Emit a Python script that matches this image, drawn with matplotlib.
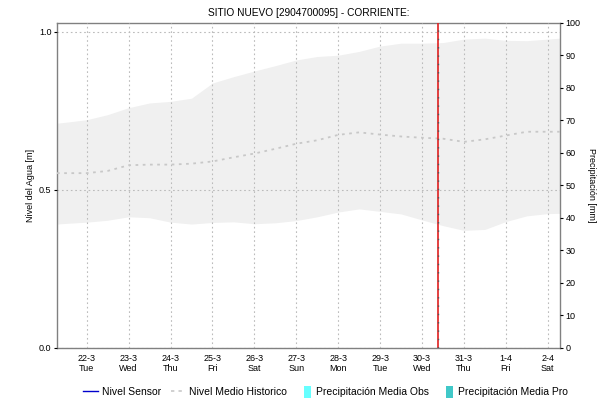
import matplotlib
matplotlib.use("Agg")
import matplotlib.pyplot as plt
from matplotlib.lines import Line2D
from matplotlib.patches import Patch, Rectangle
from matplotlib.legend_handler import HandlerPatch
import pandas as pd

plt.rcParams['font.family'] = ['Liberation Sans', 'DejaVu Sans']

title = "SITIO NUEVO [2904700095] - CORRIENTE:"

times = pd.to_datetime([
    "2022-03-21 07:00", "2022-03-21 12:00",
    "2022-03-22 00:00", "2022-03-22 12:00",
    "2022-03-23 00:00", "2022-03-23 12:00",
    "2022-03-24 00:00", "2022-03-24 12:00",
    "2022-03-25 00:00", "2022-03-25 12:00",
    "2022-03-26 00:00", "2022-03-26 12:00",
    "2022-03-27 00:00", "2022-03-27 12:00",
    "2022-03-28 00:00", "2022-03-28 12:00",
    "2022-03-29 00:00", "2022-03-29 12:00",
    "2022-03-30 00:00", "2022-03-30 12:00",
    "2022-03-31 00:00", "2022-03-31 12:00",
    "2022-04-01 00:00", "2022-04-01 12:00",
    "2022-04-02 00:00", "2022-04-02 07:00",
])

band_upper = [0.711, 0.714, 0.722, 0.738, 0.760, 0.775, 0.780, 0.790, 0.838, 0.858,
              0.876, 0.893, 0.911, 0.922, 0.926, 0.938, 0.955, 0.964, 0.964, 0.966,
              0.977, 0.980, 0.973, 0.972, 0.977, 0.980]
band_lower = [0.392, 0.394, 0.398, 0.404, 0.415, 0.412, 0.398, 0.392, 0.397, 0.399,
              0.393, 0.396, 0.403, 0.415, 0.430, 0.440, 0.432, 0.424, 0.405, 0.387,
              0.372, 0.375, 0.400, 0.418, 0.425, 0.426]
nivel_medio = [0.553, 0.553, 0.553, 0.560, 0.578, 0.580, 0.580, 0.583, 0.590, 0.603,
               0.615, 0.630, 0.646, 0.657, 0.674, 0.682, 0.675, 0.669, 0.665, 0.662,
               0.652, 0.660, 0.672, 0.684, 0.684, 0.684]

now_time = pd.Timestamp("2022-03-30 09:00")

day_ticks = pd.date_range("2022-03-22", "2022-04-02", freq="D")
day_labels = ["22-3\nTue", "23-3\nWed", "24-3\nThu", "25-3\nFri", "26-3\nSat", "27-3\nSun",
              "28-3\nMon", "29-3\nTue", "30-3\nWed", "31-3\nThu", "1-4\nFri", "2-4\nSat"]

left_ticks = [0.0, 0.5, 1.0]
right_ticks = list(range(0, 101, 10))

fig = plt.figure(figsize=(6.01, 4.03), dpi=100)
ax = fig.add_axes([0.0948, 0.1365, 0.837, 0.8065])

ax.fill_between(times, band_lower, band_upper, color="#f0f0f0", lw=0, zorder=1)
ax.plot(times, nivel_medio, color="#c8c8c8", lw=1.3, linestyle=(0, (1.5, 2.5)), zorder=3)

ax.set_xlim(times[0], times[-1])
ax.set_ylim(0, 1.028)
ax.set_yticks(left_ticks)
ax.set_yticklabels(["0.0", "0.5", "1.0"])
ax.set_xticks(day_ticks)
ax.set_xticklabels(day_labels)

ax.grid(True, color="#bbbbbb", linestyle=(0, (1.5, 2.5)), lw=0.8, zorder=2)
ax.set_axisbelow(False)

ax.axvline(now_time, color="#e02020", lw=1.2, zorder=5)
ax.axvline(now_time, color="#555555", lw=1.0, linestyle=(0, (1, 5)), zorder=6)

for s in ax.spines.values():
    s.set_color("#808080")
    s.set_linewidth(1.0)

ax.tick_params(axis="both", labelsize=6.5, colors="#000000", length=2, width=0.8, pad=2)
ax.tick_params(axis="x", length=0, pad=4)
ax.set_ylabel("Nivel del Agua [m]", fontsize=6.5, labelpad=3)

ax2 = ax.twinx()
ax2.set_ylim(0, 100)
ax2.set_yticks(right_ticks)
ax2.tick_params(axis="y", labelsize=6.5, length=2, width=0.8, pad=2)
for s in ax2.spines.values():
    s.set_visible(False)
ax2.set_ylabel("Precipitación [mm]", fontsize=6.5, rotation=-90, labelpad=11)

ax.set_title(title, fontsize=7.3, pad=5)


def narrow_patch(legend, orig_handle, xdescent, ydescent, width, height, fontsize):
    return Rectangle((-xdescent + width - 6, -ydescent - 1), 5, height + 2)


handles = [
    Line2D([], [], color="#0000cc", lw=1.0),
    Line2D([], [], color="#c8c8c8", lw=1.2, linestyle=(0, (2, 2.5))),
    Patch(facecolor="#66ffff", edgecolor="none"),
    Patch(facecolor="#40c8c8", edgecolor="none"),
]
labels = ["Nivel Sensor", "Nivel Medio Historico", "Precipitación Media Obs", "Precipitación Media Pro"]
fig.legend(handles, labels, loc="center", bbox_to_anchor=(0.541, 0.027), ncol=4, frameon=False,
           fontsize=7.5, handlelength=1.5, handletextpad=0.3, columnspacing=0.95, handleheight=1.0,
           handler_map={Patch: HandlerPatch(patch_func=narrow_patch)})

fig.savefig("out.png", dpi=100)
